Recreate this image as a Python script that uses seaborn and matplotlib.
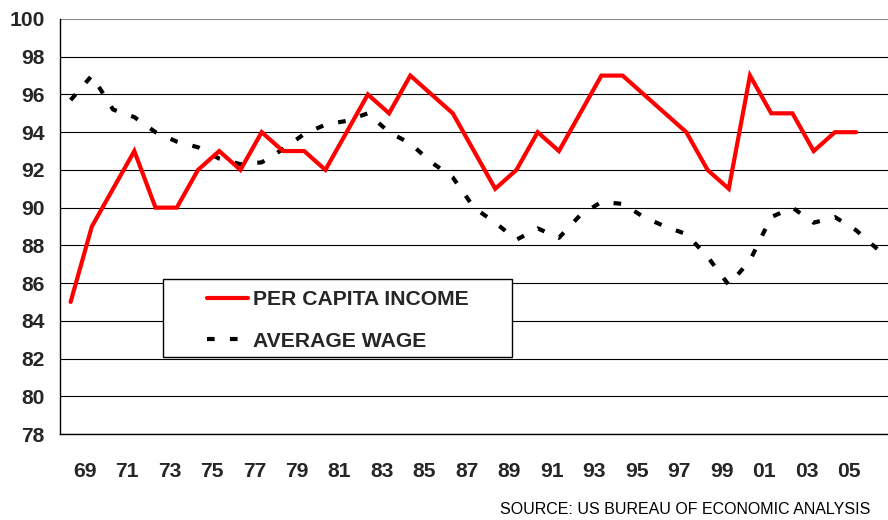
import matplotlib
matplotlib.use("Agg")
import matplotlib.pyplot as plt
import seaborn as sns
import numpy as np
import pandas as pd
from matplotlib.patches import Rectangle

# ---- data ----
income_years = list(range(1968, 2006))
per_capita_income = [85, 89, 91, 93, 90, 90, 92, 93, 92, 94, 93, 93, 92, 94, 96, 95,
                     97, 96, 95, 93, 91, 92, 94, 93, 95, 97, 97, 96, 95, 94, 92, 91,
                     97, 95, 95, 93, 94, 94]
wage_years = list(range(1968, 2007))
average_wage = [95.7, 97.0, 95.2, 94.8, 94.0, 93.5, 93.2, 92.6, 92.3, 92.4, 93.1, 93.9,
                94.4, 94.6, 95.0, 94.0, 93.4, 92.4, 91.6, 90.0, 89.2, 88.3, 88.9, 88.4,
                89.6, 90.3, 90.2, 89.5, 89.0, 88.6, 87.4, 85.9, 87.2, 89.5, 90.0, 89.2,
                89.5, 88.8, 87.8]
label_years = list(range(1969, 2006, 2))
tick_labels = [f"{y % 100:02d}" for y in label_years]
y_ticks = list(range(78, 101, 2))
series_names = ["PER CAPITA INCOME", "AVERAGE WAGE"]
source_text = "SOURCE: US BUREAU OF ECONOMIC ANALYSIS"

# ---- style ----
sns.set_style("white")
plt.rcParams["font.family"] = ["Liberation Sans", "DejaVu Sans"]
plt.rcParams["lines.scale_dashes"] = False

W, H = 888, 520
fig = plt.figure(figsize=(W / 100, H / 100), dpi=100)
ax_left, ax_top, ax_bottom = 60, 19, 434
ax = fig.add_axes([ax_left / W, 1 - ax_bottom / H, (W - ax_left) / W, (ax_bottom - ax_top) / H])

df_inc = pd.DataFrame({"year": income_years, "value": per_capita_income})
df_wage = pd.DataFrame({"year": wage_years, "value": average_wage})

sns.lineplot(data=df_inc, x="year", y="value", ax=ax, color="#ff0000", lw=3.0,
             label=series_names[0], zorder=4, solid_joinstyle="miter")
sns.lineplot(data=df_wage, x="year", y="value", ax=ax, color="black", lw=3.0,
             linestyle=(0, (5.5, 11.0)), dash_capstyle="butt",
             label=series_names[1], zorder=3)

cat_w = 21.4
x0 = 1967.5
ax.set_xlim(x0, x0 + (W - ax_left) / cat_w)
ax.set_ylim(78, 100)

# gridlines
ax.set_yticks(y_ticks)
ax.yaxis.grid(True, color="black", lw=0.8)
ax.set_axisbelow(True)
gl = ax.get_ygridlines()
gl[-1].set_color("#8a8a8a")
gl[-1].set_linewidth(1.5)

FS = 15.2
# y ticks
ax.tick_params(axis="y", which="major", direction="out", length=5, width=1,
               color="black", pad=6, labelsize=FS)
for t in ax.get_yticklabels():
    t.set_fontweight("bold")

# x ticks: boundaries as major ticks, labels as minor
ax.set_xticks(np.arange(1967.5, 2007.0, 1.0))
ax.set_xticklabels([])
ax.set_xticks([y - 0.33 for y in label_years], minor=True)
ax.set_xticklabels(tick_labels, minor=True)
ax.tick_params(axis="x", which="major", direction="out", length=4.5, width=1, color="black")
ax.tick_params(axis="x", which="minor", length=0, pad=20.5, labelsize=FS)
for t in ax.get_xticklabels(minor=True):
    t.set_fontweight("bold")

for s in ["top", "right"]:
    ax.spines[s].set_visible(False)
for s in ["left", "bottom"]:
    ax.spines[s].set_color("black")
    ax.spines[s].set_linewidth(1.0)
ax.set_xlabel("")
ax.set_ylabel("")

# legend box
bx0, by0, bx1, by1 = 163, 279, 512, 357
rect = Rectangle((bx0 / W, 1 - by1 / H), (bx1 - bx0) / W, (by1 - by0) / H,
                 transform=fig.transFigure, facecolor="white", edgecolor="black",
                 lw=1.0, zorder=5, clip_on=False)
ax.add_patch(rect)
leg = ax.legend(loc="upper left", bbox_to_anchor=(207 / W, 1 - 290 / H),
                bbox_transform=fig.transFigure, frameon=False, borderpad=0,
                borderaxespad=0, handlelength=1.92, handletextpad=0.24,
                labelspacing=1.07, prop={"weight": "bold", "size": FS})
leg.set_zorder(6)

fig.text(870 / W, 1 - 509 / H, source_text, ha="right", va="center",
         fontsize=11.5, color="black")

fig.savefig("out.png", dpi=100)
